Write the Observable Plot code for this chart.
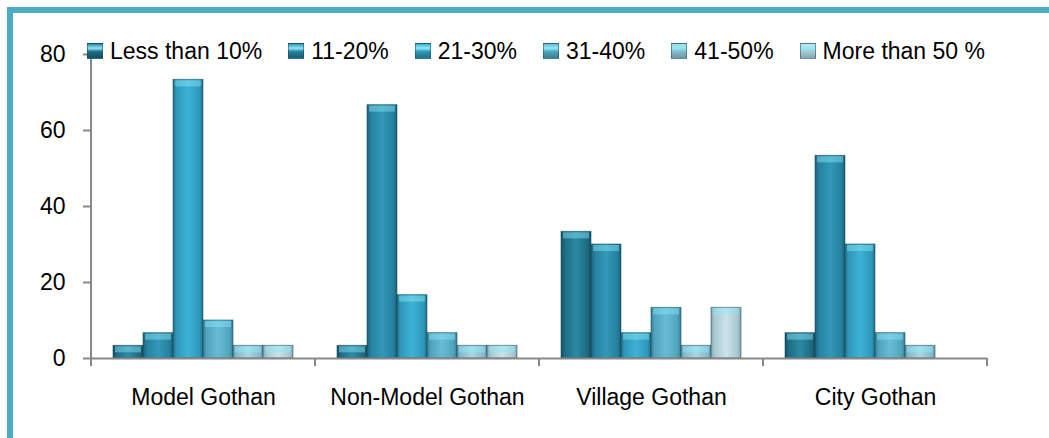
<!DOCTYPE html>
<html>
<head>
<meta charset="utf-8">
<script src="https://cdn.jsdelivr.net/npm/d3@7"></script>
<script src="https://cdn.jsdelivr.net/npm/@observablehq/plot@0.6"></script>
<style>
  html, body { margin: 0; padding: 0; background: #fff; }
  #wrap { position: relative; width: 1049px; height: 438px; overflow: hidden; background: #fff;
          font-family: "Liberation Sans", Arial, sans-serif; }
  #frame { position: absolute; left: 7px; top: 7px; width: 1100px; height: 500px;
           border-left: 6px solid #4bacc6; border-top: 6px solid #4bacc6; box-sizing: border-box; }
  #chart { position: absolute; left: 0; top: 0; }
  #legend { position: absolute; left: 87px; top: 40px; display: flex; align-items: center; font-size: 23px; color: #000; white-space: nowrap; }
  .item { display: flex; align-items: center; margin-right: 26px; height: 22px; }
  .sw { width: 16px; height: 16px; margin-right: 7px; box-sizing: border-box; border: 1px solid rgba(20,72,90,0.5); }
</style>
</head>
<body>
<div id="wrap">
  <div id="frame"></div>
  <div id="chart"></div>
  <div id="legend"></div>
</div>
<script>
const categories = ["Model Gothan", "Non-Model Gothan", "Village Gothan", "City Gothan"];
const series = ["Less than 10%", "11-20%", "21-30%", "31-40%", "41-50%", "More than 50 %"];
// values per series, in category order
const lessThan10 = [3.33, 3.33, 33.33, 6.67];
const s11to20   = [6.67, 66.67, 30, 53.33];
const s21to30   = [73.33, 16.67, 6.67, 30];
const s31to40   = [10, 6.67, 13.33, 6.67];
const s41to50   = [3.33, 3.33, 3.33, 3.33];
const moreThan50 = [3.33, 3.33, 13.33, 0];
const yTicks = [0, 20, 40, 60, 80];

const seriesValues = [lessThan10, s11to20, s21to30, s31to40, s41to50, moreThan50];
const baseColors  = ["#1e6b82", "#25809e", "#2d98ba", "#4ea4be", "#86bccb", "#a8c8d2"];
const lightColors = ["#2b8aa5", "#3399ba", "#3db2d6", "#6abcd4", "#a9d6e3", "#cde3ea"];
const edgeColors  = ["#164f61", "#1b5f76", "#22708a", "#3a7d90", "#6a97a4", "#87a6b0"];

const data = [];
series.forEach((s, i) => categories.forEach((c, j) => data.push({cat: c, series: s, value: seriesValues[i][j]})));
const shown = data.filter(d => d.value > 0);

const plot = Plot.plot({
  width: 1049, height: 438,
  marginLeft: 89, marginRight: 61, marginTop: 54, marginBottom: 80,
  style: {fontFamily: "'Liberation Sans', Arial, sans-serif", fontSize: "23px", color: "#000", background: "transparent", overflow: "visible"},
  fx: {domain: categories, padding: 0, label: null},
  x: {domain: series, paddingInner: 0, paddingOuter: 0.73, axis: null},
  y: {domain: [0, 80], axis: null},
  color: {domain: series, range: series.map((_, i) => `url(#g${i})`)},
  marks: [
    Plot.axisY({ticks: yTicks, tickSize: 8, tickPadding: 18, stroke: "#888", strokeWidth: 2, fontSize: 23, label: null}),
    Plot.axisFx({anchor: "bottom", tickSize: 0, tickPadding: 30, fontSize: 23, label: null}),
    Plot.barY(shown, {fx: "cat", x: "series", y: "value", fill: "series", stroke: "#14485a", strokeOpacity: 0.55, strokeWidth: 1}),
    Plot.tickY(shown, {fx: "cat", x: "series", y: "value", stroke: "#8fe8f8", strokeOpacity: 0.45, strokeWidth: 6, dy: 3.5, insetLeft: 2, insetRight: 2}),
    Plot.ruleY([0], {stroke: "#888", strokeWidth: 2})
  ]
});

// gradients for bevelled bars
const svg = d3.select(plot);
const defs = svg.insert("defs", ":first-child");
series.forEach((s, i) => {
  const g = defs.append("linearGradient").attr("id", `g${i}`).attr("x1", 0).attr("x2", 1).attr("y1", 0).attr("y2", 0);
  [[0, edgeColors[i]], [0.12, baseColors[i]], [0.5, lightColors[i]], [0.88, baseColors[i]], [1, edgeColors[i]]]
    .forEach(([o, c]) => g.append("stop").attr("offset", o).attr("stop-color", c));
});

// y axis line and category boundary ticks, from Plot's scales
const ys = plot.scale("y"), fxs = plot.scale("fx");
const y0 = ys.apply(0), yTop = ys.apply(yTicks[yTicks.length - 1]);
const xs = categories.map(c => fxs.apply(c));
xs.push(fxs.apply(categories[categories.length - 1]) + fxs.bandwidth);
const extra = svg.append("g").attr("stroke", "#888").attr("stroke-width", 2);
extra.append("line").attr("x1", xs[0]).attr("x2", xs[0]).attr("y1", yTop).attr("y2", y0 + 8);
xs.forEach(x => extra.append("line").attr("x1", x).attr("x2", x).attr("y1", y0).attr("y2", y0 + 8));

document.getElementById("chart").appendChild(plot);

// legend
const legend = d3.select("#legend");
series.forEach((s, i) => {
  const it = legend.append("div").attr("class", "item");
  it.append("div").attr("class", "sw")
    .style("background", `linear-gradient(to bottom, ${lightColors[i]} 0%, #8fe8f8 30%, ${baseColors[i]} 55%, ${edgeColors[i]} 100%)`);
  it.append("span").text(s);
});
</script>
</body>
</html>
